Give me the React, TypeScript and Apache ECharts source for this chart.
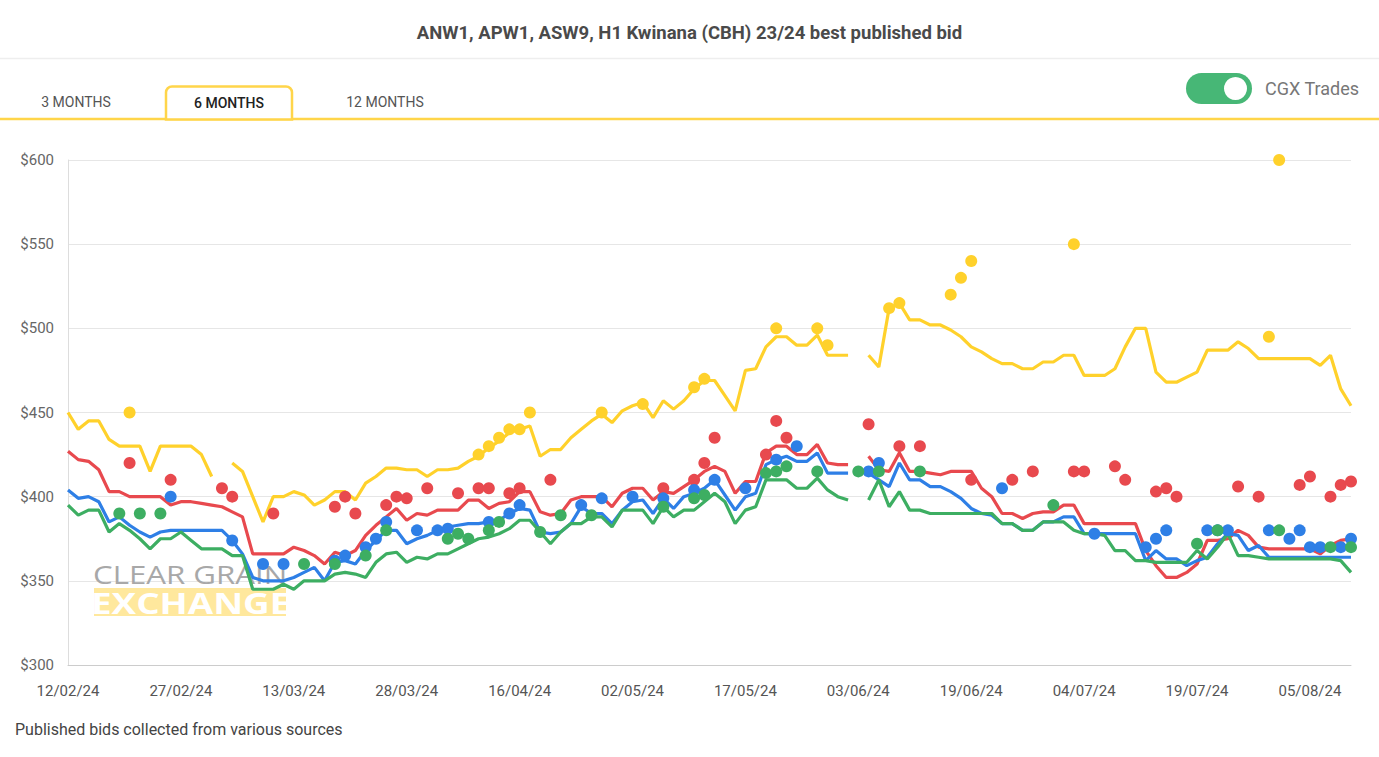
import React, { useEffect, useRef } from "react";
import * as echarts from "echarts";

const titleText = "ANW1, APW1, ASW9, H1 Kwinana (CBH) 23/24 best published bid";
const tabLabels = ["3 MONTHS", "6 MONTHS", "12 MONTHS"];
const toggleLabel = "CGX Trades";
const footerText = "Published bids collected from various sources";
const yTicks = [300, 350, 400, 450, 500, 550, 600];

const dates = [
  "12/02/24","13/02/24","14/02/24","15/02/24","16/02/24","19/02/24","20/02/24","21/02/24","22/02/24","23/02/24","26/02/24","27/02/24","28/02/24","29/02/24",
  "01/03/24","04/03/24","05/03/24","06/03/24","07/03/24","08/03/24","11/03/24","12/03/24","13/03/24","14/03/24","15/03/24","18/03/24","19/03/24","20/03/24","21/03/24","22/03/24","25/03/24","26/03/24","27/03/24","28/03/24",
  "02/04/24","03/04/24","04/04/24","05/04/24","08/04/24","09/04/24","10/04/24","11/04/24","12/04/24","15/04/24","16/04/24","17/04/24","18/04/24","19/04/24","22/04/24","23/04/24","24/04/24","26/04/24","29/04/24","30/04/24",
  "01/05/24","02/05/24","03/05/24","06/05/24","07/05/24","08/05/24","09/05/24","10/05/24","13/05/24","14/05/24","15/05/24","16/05/24","17/05/24","20/05/24","21/05/24","22/05/24","23/05/24","24/05/24","27/05/24","28/05/24","29/05/24","30/05/24","31/05/24",
  "03/06/24","04/06/24","05/06/24","06/06/24","07/06/24","11/06/24","12/06/24","13/06/24","14/06/24","17/06/24","18/06/24","19/06/24","20/06/24","21/06/24","24/06/24","25/06/24","26/06/24","27/06/24","28/06/24",
  "01/07/24","02/07/24","03/07/24","04/07/24","05/07/24","08/07/24","09/07/24","10/07/24","11/07/24","12/07/24","15/07/24","16/07/24","17/07/24","18/07/24","19/07/24","22/07/24","23/07/24","24/07/24","25/07/24","26/07/24","29/07/24","30/07/24","31/07/24",
  "01/08/24","02/08/24","05/08/24","06/08/24","07/08/24","08/08/24","09/08/24"
];

// best published bid lines (null = no bid that day)
const yellowLine = [
  450,440,445,445,434,430,430,430,415,430,430,430,430,425,412,null,420,415,400,385,
  400,400,403,401,395,398,403,403,398,408,412,417,417,416,416,412,416,416,417,421,
  424,429,433,438,440,442,424,428,428,435,440,445,449,444,451,454,456,447,457,452,
  457,464,469,469,460,451,475,476,489,495,495,490,490,496,484,484,484,null,484,477,
  512,515,505,505,502,502,499,495,489,486,482,479,479,476,476,480,480,484,484,472,
  472,472,476,489,500,500,474,468,468,471,474,487,487,487,492,488,482,482,482,482,
  482,482,478,484,464,454
];
const redLine = [
  427,422,421,416,403,403,400,400,400,400,395,397,397,396,395,394,391,388,366,366,
  366,366,370,368,365,360,367,365,368,377,383,388,393,386,390,389,392,392,392,398,
  398,393,396,397,403,403,391,389,390,398,400,400,400,394,402,405,405,398,403,402,
  406,410,415,418,415,402,409,409,426,430,430,425,425,431,420,419,419,null,424,416,
  415,426,415,415,414,413,415,415,415,405,400,390,390,387,390,391,391,395,395,384,
  384,384,384,384,384,368,359,352,352,355,360,374,374,375,380,377,370,369,369,369,
  369,369,366,371,374,375
];
const blueLine = [
  404,399,400,397,385,388,383,379,376,379,380,380,380,380,380,380,374,366,352,350,
  350,350,352,355,358,350,361,362,360,368,374,380,380,372,375,377,380,382,383,384,
  384,385,386,390,393,392,379,378,379,384,394,390,390,384,392,397,398,390,399,393,
  400,402,405,410,401,392,400,402,419,422,424,421,421,426,414,414,414,null,414,410,
  406,420,410,410,406,406,403,399,393,390,389,384,384,380,380,385,385,388,388,378,
  378,378,378,378,378,362,368,363,363,359,362,364,372,378,377,368,371,364,364,364,
  364,364,364,364,364,364
];
const greenLine = [
  395,389,392,392,379,384,380,375,369,375,375,379,374,369,369,369,365,365,345,345,
  345,348,345,350,350,350,354,355,354,352,361,366,367,361,364,363,366,366,369,372,
  375,376,378,381,386,386,379,372,379,384,384,388,388,382,392,392,392,384,394,388,
  392,392,397,402,397,384,392,394,410,410,410,405,405,411,404,400,398,null,398,410,
  394,403,392,392,390,390,390,390,390,390,390,384,384,380,380,385,385,385,380,378,
  378,377,368,368,362,362,361,361,361,361,368,363,370,378,365,365,364,363,363,363,
  363,363,363,363,362,355
];

// CGX trades: [day index, price]
const yellowTrades = [
  [6,450],[40,425],[41,430],[42,435],[43,440],[44,440],[45,450],[52,450],[56,455],[61,465],[62,470],
  [69,500],[73,500],[74,490],[80,512],[81,515],[86,520],[87,530],[88,540],[98,550],[117,495],[118,600]
];
const redTrades = [
  [6,420],[10,410],[15,405],[16,400],[20,390],[26,394],[27,400],[28,390],[31,395],[32,400],[33,399],
  [35,405],[38,402],[40,405],[41,405],[43,402],[44,405],[47,410],[58,405],[61,410],[62,420],[63,435],
  [68,425],[69,445],[70,435],[78,443],[81,430],[83,430],[88,410],[92,410],[94,415],[98,415],[99,415],
  [102,418],[103,410],[106,403],[107,405],[108,400],[114,406],[116,400],[120,407],[121,412],[123,400],
  [124,407],[125,409]
];
const blueTrades = [
  [10,400],[16,374],[19,360],[21,360],[26,362],[27,365],[29,370],[30,375],[31,385],[34,380],[36,380],
  [37,381],[41,385],[43,390],[44,395],[50,395],[52,399],[55,400],[58,399],[61,404],[63,410],[66,405],
  [69,422],[71,430],[78,415],[79,420],[91,405],[100,378],[105,370],[106,375],[107,380],[111,380],
  [112,380],[113,380],[117,380],[119,375],[120,380],[121,370],[122,370],[124,370],[125,375]
];
const greenTrades = [
  [5,390],[7,390],[9,390],[23,360],[26,360],[29,365],[31,380],[37,375],[38,378],[39,375],[41,380],
  [42,385],[46,379],[48,389],[51,389],[58,394],[61,399],[62,401],[68,414],[69,415],[70,418],[73,415],
  [77,415],[79,415],[83,415],[96,395],[110,372],[112,380],[118,380],[123,370],[125,370]
];

const YELLOW = "#FFD12B";
const RED = "#E8494E";
const BLUE = "#2E7FE6";
const GREEN = "#3DAE62";
const FONT = "Roboto, 'Noto Sans', sans-serif";

function lineSeries(name: string, data: (number | null)[], color: string) {
  return {
    name,
    type: "line",
    data,
    symbol: "none",
    connectNulls: false,
    lineStyle: { color, width: 3.2 },
    itemStyle: { color },
    z: 3,
  };
}

function dotSeries(name: string, pts: number[][], color: string) {
  return {
    name,
    type: "scatter",
    data: pts.map((p) => [dates[p[0]], p[1]]),
    symbol: "circle",
    symbolSize: 12,
    itemStyle: { color, opacity: 1 },
    z: 4,
  };
}

function txt(text: string, x: number, y: number, size: number, color: string, align = "left", weight = "normal", family = FONT, scaleX = 1) {
  return {
    type: "text",
    x,
    y,
    scaleX,
    z: 1,
    style: {
      text,
      fill: color,
      fontSize: size,
      fontWeight: weight,
      fontFamily: family,
      textAlign: align,
      textVerticalAlign: "middle",
      align,
      verticalAlign: "middle",
    },
  };
}

export default function App() {
  const ref = useRef<HTMLDivElement>(null);
  useEffect(() => {
    if (!ref.current) return;
    const chart = echarts.init(ref.current, null, { renderer: "svg" });
    const option = {
      animation: false,
      backgroundColor: "#ffffff",
      title: {
        text: titleText,
        left: "center",
        top: 18,
        textStyle: { fontSize: 18.5, fontWeight: "bold", color: "#4a4a4a", fontFamily: FONT },
      },
      grid: { left: 68, right: 28, top: 160, bottom: 92, containLabel: false },
      xAxis: {
        type: "category",
        data: dates,
        boundaryGap: false,
        axisLine: { show: true, lineStyle: { color: "#cccccc", width: 1 } },
        axisTick: { show: false },
        axisLabel: { interval: 10, color: "#555555", fontSize: 15, margin: 18, fontFamily: FONT },
        splitLine: { show: false },
      },
      yAxis: {
        type: "value",
        min: yTicks[0],
        max: yTicks[yTicks.length - 1],
        interval: 50,
        axisLine: { show: true, lineStyle: { color: "#dddddd" } },
        axisTick: { show: false },
        axisLabel: { formatter: (v: number) => "$" + v, color: "#666666", fontSize: 15, margin: 14, fontFamily: FONT },
        splitLine: { lineStyle: { color: "#e6e6e6", width: 1 } },
      },
      series: [
        lineSeries("ANW1", yellowLine, YELLOW),
        lineSeries("APW1", redLine, RED),
        lineSeries("ASW9", blueLine, BLUE),
        lineSeries("H1", greenLine, GREEN),
        dotSeries("ANW1 trades", yellowTrades, YELLOW),
        dotSeries("APW1 trades", redTrades, RED),
        dotSeries("ASW9 trades", blueTrades, BLUE),
        dotSeries("H1 trades", greenTrades, GREEN),
      ],
      graphic: [
        { type: "line", z: 1, shape: { x1: 0, y1: 58.5, x2: 1379, y2: 58.5 }, style: { stroke: "#eeeeee", lineWidth: 1.5 } },
        { type: "line", z: 1, shape: { x1: 0, y1: 119, x2: 1379, y2: 119 }, style: { stroke: "#FFD54A", lineWidth: 2.5 } },
        { type: "rect", z: 1, shape: { x: 166, y: 86.5, width: 126, height: 33, r: [6, 6, 0, 0] }, style: { fill: "#ffffff", stroke: "#FFD54A", lineWidth: 2.5 } },
        txt(tabLabels[0], 76, 102, 14, "#555555", "center"),
        txt(tabLabels[1], 229, 103, 14, "#222222", "center", "500"),
        txt(tabLabels[2], 385, 102, 14, "#555555", "center"),
        { type: "rect", z: 1, shape: { x: 1186, y: 73, width: 66, height: 31, r: 15.5 }, style: { fill: "#47B776" } },
        { type: "circle", z: 1, shape: { cx: 1235.5, cy: 88.5, r: 11.5 }, style: { fill: "#ffffff" } },
        txt(toggleLabel, 1265, 88, 18, "#777777"),
        txt(footerText, 15, 729, 16, "#444444"),
        { type: "rect", z: 0, shape: { x: 94, y: 588, width: 192, height: 28 }, style: { fill: "#FFE592", opacity: 0.9 } },
        txt("EXCHANGE", 91, 603, 29, "#ffffff", "left", "bold", "'Open Sans', sans-serif", 1.27),
        txt("CLEAR GRAIN", 93, 574, 26, "#a8a8a8", "left", "normal", "'Open Sans', sans-serif", 1.2),
      ],
    };
    chart.setOption(option as any);
    return () => chart.dispose();
  }, []);
  return (
    <div
      ref={ref}
      style={{ position: "fixed", left: 0, top: 0, width: 1379, height: 757, background: "#ffffff" }}
    />
  );
}
